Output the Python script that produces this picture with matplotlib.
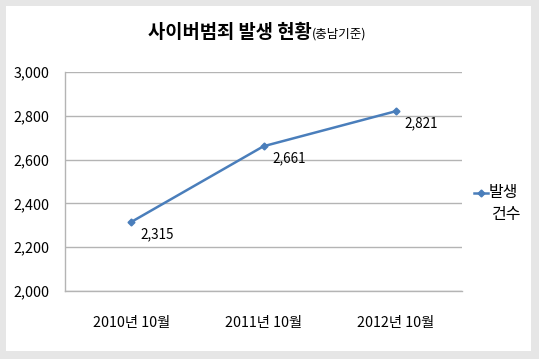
import matplotlib
matplotlib.use("Agg")
import matplotlib.pyplot as plt
from matplotlib.patches import Rectangle
from matplotlib.lines import Line2D
from matplotlib.ticker import FuncFormatter

plt.rcParams['font.family'] = ['Noto Sans CJK KR', 'DejaVu Sans']

categories = ["2010년 10월", "2011년 10월", "2012년 10월"]
values = [2315, 2661, 2821]
series_name = "발생\n건수"
title_main = "사이버범죄 발생 현황"
title_sub = "(충남기준)"
y_ticks = [2000, 2200, 2400, 2600, 2800, 3000]

W, H = 539, 359
fig = plt.figure(figsize=(W / 100, H / 100), dpi=100)
fig.patch.set_facecolor("#e6e6e6")
# white inner panel
fig.patches.append(Rectangle((6 / W, 8 / H), (531 - 6) / W, (351 - 6) / H,
                             transform=fig.transFigure, facecolor="white",
                             edgecolor="none", zorder=-10))

ax = fig.add_axes([65 / W, (H - 291) / H, (462 - 65) / W, (291 - 72) / H])
ax.set_zorder(2)
ax.set_facecolor("none")
color = "#4a7ebb"
x = list(range(len(categories)))
ax.plot(x, values, color=color, lw=1.8, marker="D", ms=3.5, zorder=3)
ax.set_xlim(-0.5, len(categories) - 0.5)
ax.set_ylim(y_ticks[0], y_ticks[-1])
ax.set_yticks(y_ticks)
ax.yaxis.set_major_formatter(FuncFormatter(lambda v, p: f"{int(v):,}"))
ax.set_xticks(x)
ax.set_xticklabels(categories)
ax.grid(axis="y", color="#b4b4b4", lw=1.0)
ax.set_axisbelow(True)
for s in ["top", "right"]:
    ax.spines[s].set_visible(False)
for s in ["left", "bottom"]:
    ax.spines[s].set_color("#b4b4b4")
    ax.spines[s].set_linewidth(1.0)
ax.tick_params(axis="both", length=0, labelsize=10.3, colors="#000000")
ax.tick_params(axis="y", pad=11)
ax.tick_params(axis="x", pad=18)

for xi, v in zip(x, values):
    ax.annotate(f"{v:,}", (xi, v), xytext=(9, -12), textcoords="offset pixels",
                ha="left", va="center", fontsize=9.7)

# title
fig.text(312 / W, 1 - 38 / H, title_main, ha="right", va="baseline",
         fontsize=13.5, fontweight="bold", zorder=5)
fig.text(312 / W, 1 - 38 / H, title_sub, ha="left", va="baseline",
         fontsize=9, zorder=5)

# legend
fig.add_artist(Line2D([474 / W, 488 / W], [1 - 193 / H, 1 - 193 / H],
                      transform=fig.transFigure, color=color, lw=1.8, zorder=5))
fig.add_artist(Line2D([481 / W], [1 - 193 / H], transform=fig.transFigure,
                      color=color, marker="D", ms=3.5, lw=0, zorder=6))
fig.text(489 / W, 1 - 193 / H, series_name.split("\n")[0], ha="left",
         va="center", fontsize=11.5, zorder=5)
fig.text(491 / W, 1 - 215 / H, series_name.split("\n")[1], ha="left",
         va="center", fontsize=11.5, zorder=5)

fig.savefig("out.png", dpi=100)
